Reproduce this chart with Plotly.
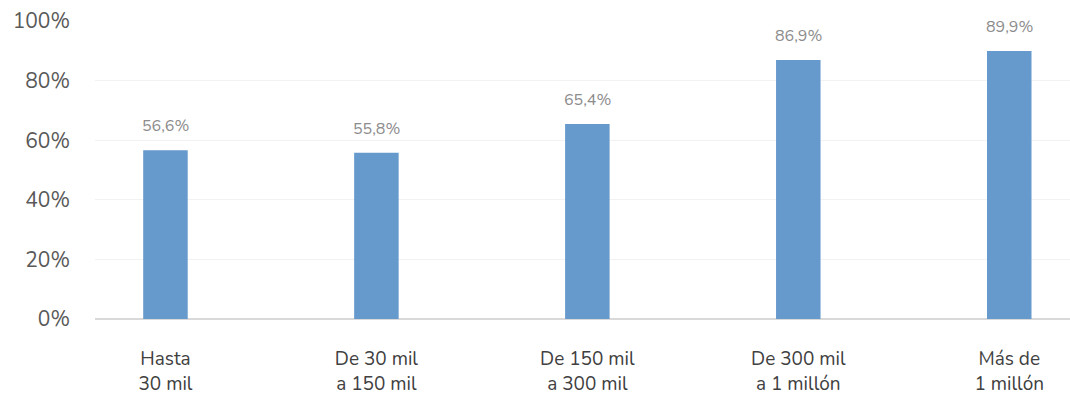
import plotly.graph_objects as go

categories = ["Hasta<br>30 mil", "De 30 mil<br>a 150 mil", "De 150 mil<br>a 300 mil",
              "De 300 mil<br>a 1 millón", "Más de<br>1 millón"]
values = [56.6, 55.8, 65.4, 86.9, 89.9]
value_labels = ["56,6%", "55,8%", "65,4%", "86,9%", "89,9%"]
y_ticks = [0, 20, 40, 60, 80, 100]
y_tick_labels = ["0%", "20%", "40%", "60%", "80%", "100%"]

FONT = "Nunito, Lato, 'Open Sans', sans-serif"

fig = go.Figure()
fig.add_trace(go.Bar(
    x=list(range(len(categories))),
    y=values,
    width=0.211,
    marker=dict(color="#6699CC", line=dict(width=0)),
    hoverinfo="skip",
))

for i, (v, lab) in enumerate(zip(values, value_labels)):
    fig.add_annotation(
        x=i, y=v, text=lab, showarrow=False, yshift=24,
        font=dict(family=FONT, size=16, color="#8C8C8C"),
    )

fig.update_layout(
    width=1070, height=398,
    margin=dict(l=95, r=0, t=21, b=79),
    paper_bgcolor="white", plot_bgcolor="white",
    showlegend=False,
    font=dict(family=FONT),
    xaxis=dict(
        range=[-0.334, 4.288],
        tickmode="array",
        tickvals=list(range(len(categories))),
        ticktext=categories,
        showgrid=False, zeroline=False,
        showline=False, ticks="",
        tickfont=dict(family=FONT, size=19, color="#404040"),
        ticklabelstandoff=26,
    ),
    yaxis=dict(
        range=[0, 100],
        tickmode="array",
        tickvals=y_ticks,
        ticktext=y_tick_labels,
        showgrid=True, gridcolor="#F2F2F2", gridwidth=1,
        zeroline=True, zerolinecolor="#D9D9D9", zerolinewidth=2,
        showline=False, ticks="",
        tickfont=dict(family=FONT, size=21, color="#595959"),
        ticklabelstandoff=24,
    ),
)

fig.write_html("out.html")
